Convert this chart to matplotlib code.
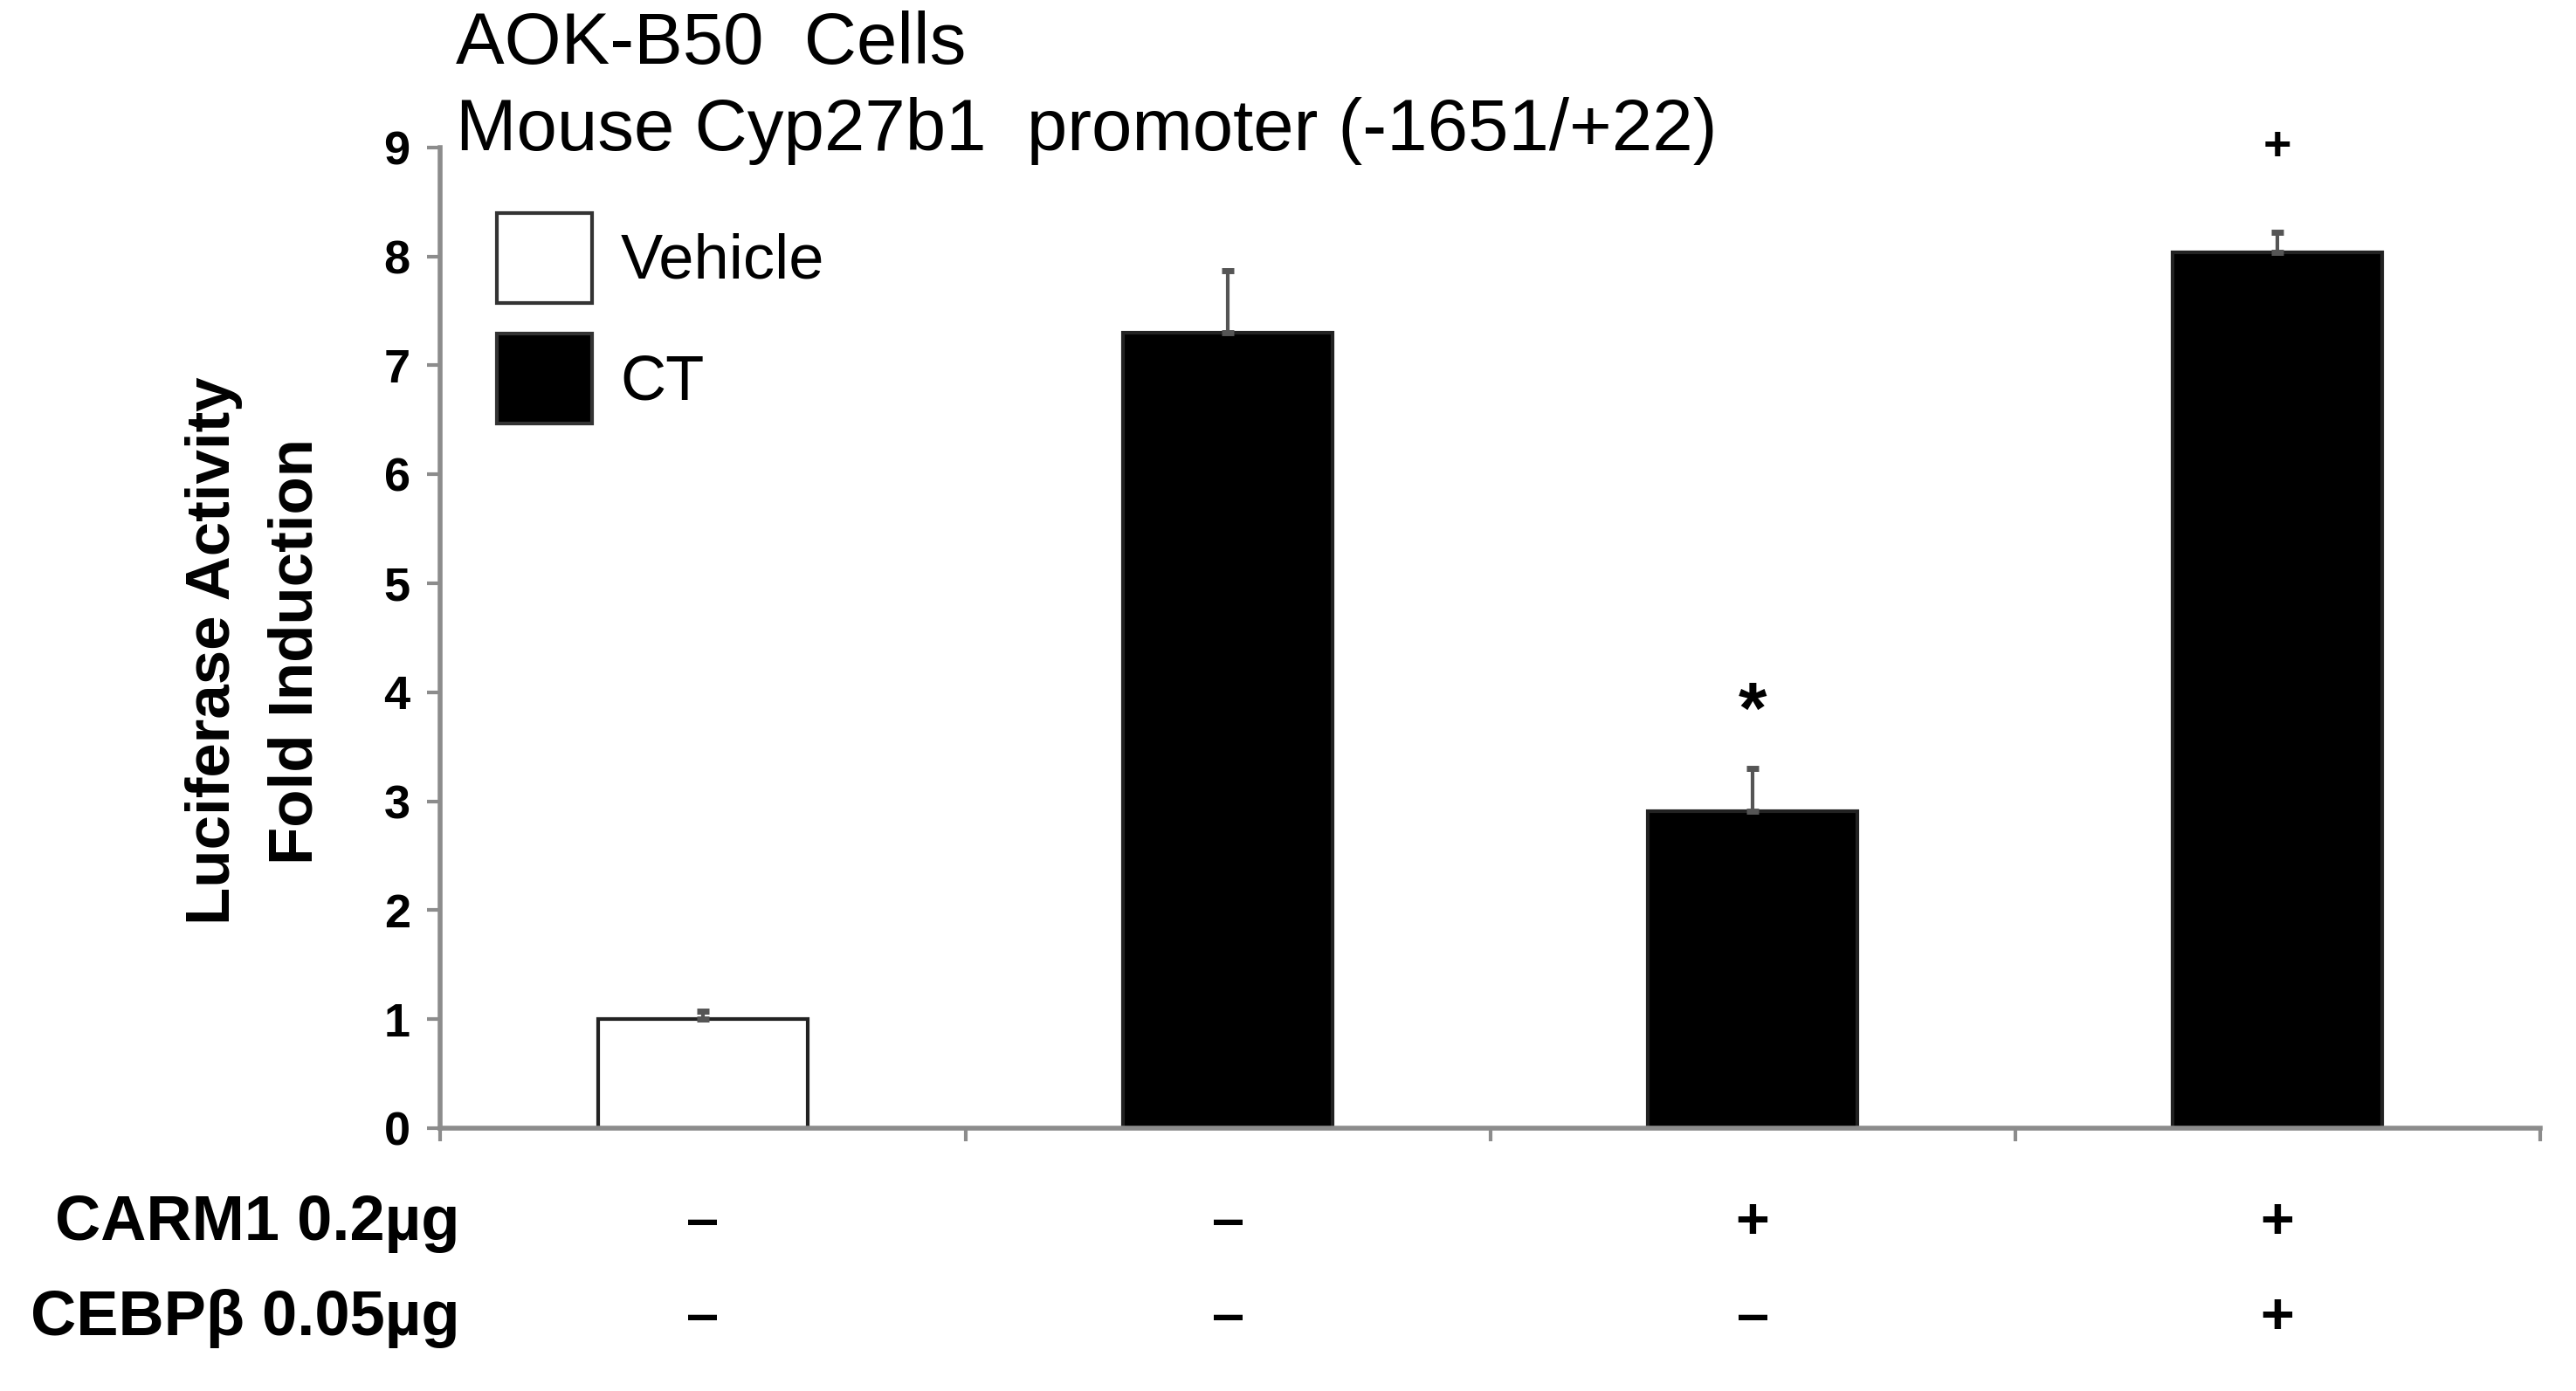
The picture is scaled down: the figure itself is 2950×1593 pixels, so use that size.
"""Luciferase reporter bar chart: AOK-B50 cells, mouse Cyp27b1 promoter."""
import matplotlib
matplotlib.use("Agg")
import matplotlib.pyplot as plt
from matplotlib.patches import Patch
from matplotlib.transforms import blended_transform_factory

# data
conditions = ["Vehicle", "CT", "CT", "CT"]
fold = [1.0, 7.30, 2.91, 8.04]
err = [0.07, 0.57, 0.39, 0.18]
carm1 = ["–", "–", "+", "+"]
cebpb = ["–", "–", "–", "+"]
marks = ["", "", "*", "+"]
mark_y = [0, 0, 3.8, 9.0]

plt.rcParams["font.family"] = ["Liberation Sans", "DejaVu Sans"]
BLACK = "#000000"
AXIS_GREY = "#8c8c8c"

fig = plt.figure(figsize=(29.5, 15.93), dpi=100)
ax = fig.add_axes([0.171, 0.189, 0.815, 0.705])

x = list(range(len(fold)))
faces = ["white" if c == "Vehicle" else BLACK for c in conditions]
ax.bar(x, fold, width=0.4, color=faces, edgecolor="#222222", linewidth=3, zorder=2)
ax.errorbar(x, fold, yerr=[[0] * len(err), err], fmt="none", ecolor="#555555",
            elinewidth=3, capsize=5, capthick=5, zorder=3)

for xi, m, my in zip(x, marks, mark_y):
    if m:
        ax.text(xi, my, m, ha="center", va="center", fontsize=60 if m == "*" else 40,
                fontweight="bold", color=BLACK)

ax.set_xlim(-0.5, len(fold) - 0.5)
ax.set_ylim(0, 9)
ax.set_yticks(range(10))
ax.set_yticklabels([str(i) for i in range(10)], fontsize=39, fontweight="bold")
ax.set_xticks([i - 0.5 for i in range(len(fold) + 1)])
ax.set_xticklabels([])
for s in ("top", "right"):
    ax.spines[s].set_visible(False)
for s in ("left", "bottom"):
    ax.spines[s].set_color(AXIS_GREY)
    ax.spines[s].set_linewidth(4)
ax.tick_params(axis="both", direction="out", length=11, width=3, color=AXIS_GREY)
ax.tick_params(axis="y", pad=14)

handles = [Patch(facecolor="white", edgecolor="#333333", linewidth=3, label="Vehicle"),
           Patch(facecolor=BLACK, edgecolor="#333333", linewidth=3, label="CT")]
ax.legend(handles=handles, loc="upper left", bbox_to_anchor=(0.015, 0.959), frameon=False,
          fontsize=52, handlelength=1.5, handleheight=1.82, handletextpad=0.45,
          labelspacing=0.49, borderaxespad=0)

# titles
fig.text(0.177, 0.968, "AOK-B50  Cells", fontsize=60, ha="left", va="center")
fig.text(0.177, 0.906, "Mouse Cyp27b1  promoter (-1651/+22)", fontsize=60, ha="left", va="center")

# y label (two lines)
fig.text(0.083, 0.532, "Luciferase Activity", fontsize=51, fontweight="bold",
         rotation=90, ha="center", va="center")
fig.text(0.115, 0.532, "Fold Induction", fontsize=51, fontweight="bold",
         rotation=90, ha="center", va="center")

# treatment table under the axis
tr = blended_transform_factory(ax.transData, fig.transFigure)
rows = [("CARM1 0.2µg", carm1, 0.1205), ("CEBPβ 0.05µg", cebpb, 0.052)]
for label, signs, yy in rows:
    fig.text(0.1786, yy, label, fontsize=52, fontweight="bold", ha="right", va="center")
    for xi, sgn in zip(x, signs):
        ax.text(xi, yy, sgn, transform=tr, fontsize=48, fontweight="bold",
                ha="center", va="center", clip_on=False)

fig.savefig("out.png", dpi=100)
